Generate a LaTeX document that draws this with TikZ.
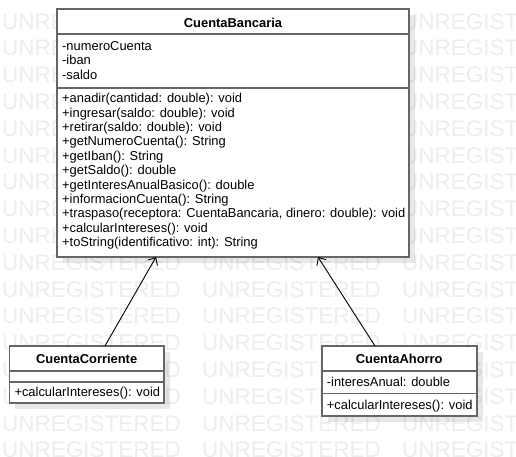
\documentclass[tikz,border=0pt]{standalone}
\usepackage{fontspec}
\setmainfont{Liberation Sans}
\usetikzlibrary{arrows.meta,shadows}
\tikzset{
  umlbox/.style={draw=black!60,line width=1.6pt,fill=white,anchor=north west,
    inner sep=0pt,outer sep=0pt,
    drop shadow={shadow xshift=6pt,shadow yshift=-6pt,fill=black,opacity=.09}},
  sepline/.style={draw=black!60,line width=1.6pt},
  umltext/.style={anchor=base west,inner sep=0pt,font=\fontsize{12.9}{14}\selectfont},
  umltitle/.style={anchor=base,inner sep=0pt,font=\fontsize{12.9}{14}\selectfont\bfseries},
  wmark/.style={anchor=base west,inner sep=0pt,text=black!7,font=\fontsize{22.5}{24}\selectfont},
  inherit/.style={-{Straight Barb[length=6pt,width=11pt]},line width=.9pt}
}
\begin{document}
\begin{tikzpicture}[x=1pt,y=-1pt]
\useasboundingbox (0,0) rectangle (516,456);
% watermark
\begin{scope}
\clip (0,0) rectangle (516,456);
\foreach \r in {0,...,16}
\foreach \c in {0,1,2}
\node[wmark] (w\r-\c) at (2+200*\c,29+26.8*\r) {UNREGISTERED};
\end{scope}
%%%% CuentaBancaria
\node[umlbox,minimum width=352pt,minimum height=248pt] (bank) at (57,9) {};
\draw[sepline] ([yshift=-25pt]bank.north west) -- ([yshift=-25pt]bank.north east);
\draw[sepline] ([yshift=-79pt]bank.north west) -- ([yshift=-79pt]bank.north east);
\node[umltitle] (bankname) at (233,27) {CuentaBancaria};
\foreach \t [count=\i] in {-numeroCuenta,-iban,-saldo}
\node[umltext] (ba\i) at (62,36.1+14.4*\i) {\t};
\foreach \t [count=\i] in {+anadir(cantidad: double): void,
  +ingresar(saldo: double): void,
  +retirar(saldo: double): void,
  +getNumeroCuenta(): String,
  +getIban(): String,
  +getSaldo(): double,
  +getInteresAnualBasico(): double,
  +informacionCuenta(): String,
  {+traspaso(receptora: CuentaBancaria, dinero: double): void},
  +calcularIntereses(): void,
  +toString(identificativo: int): String}
\node[umltext] (bm\i) at (62,88.3+14.4*\i) {\t};
%%%% CuentaCorriente
\node[umlbox,minimum width=154.7pt,minimum height=57pt] (corr) at (9.3,346) {};
\draw[sepline] ([yshift=-25pt]corr.north west) -- ([yshift=-25pt]corr.north east);
\draw[sepline] ([yshift=-35.7pt]corr.north west) -- ([yshift=-35.7pt]corr.north east);
\node[umltitle] (corrname) at (86.65,363.5) {CuentaCorriente};
\node[umltext] (cm1) at (14.3,396.3) {+calcularIntereses(): void};
%%%% CuentaAhorro
\node[umlbox,minimum width=155pt,minimum height=69.7pt] (sav) at (321.7,346) {};
\draw[sepline] ([yshift=-25pt]sav.north west) -- ([yshift=-25pt]sav.north east);
\draw[sepline] ([yshift=-47.3pt]sav.north west) -- ([yshift=-47.3pt]sav.north east);
\node[umltitle] (savname) at (399.2,363.3) {CuentaAhorro};
\node[umltext] (sa1) at (326.7,386) {-interesAnual: double};
\node[umltext] (sm1) at (326.7,409) {+calcularIntereses(): void};
%%%% herencia
\draw[inherit] ([xshift=18.3pt]corr.north) -- ([xshift=-77pt]bank.south);
\draw[inherit] ([xshift=-24.2pt]sav.north) -- ([xshift=85pt]bank.south);
\end{tikzpicture}
\end{document}
